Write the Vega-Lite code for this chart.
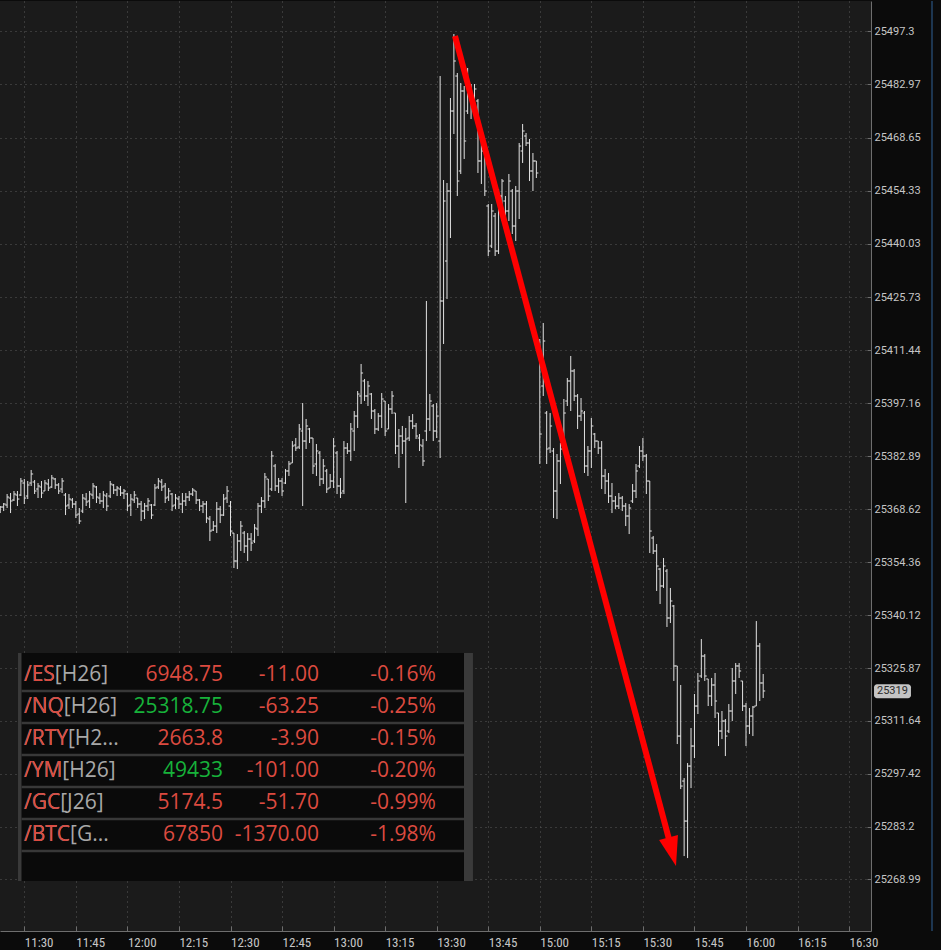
{
  "$schema": "https://vega.github.io/schema/vega-lite/v6.json",
  "width": 871,
  "height": 930,
  "padding": 0,
  "background": "#0b0b0b",
  "config": {
    "view": {"fill": "#1b1b1b", "stroke": null},
    "axis": {"title": null}
  },
  "datasets": {
    "bars": [
{"t":-7,"o":25368.67,"h":25369.48,"l":25367.59,"c":25369.21},
{"t":-6,"o":25369.21,"h":25370.29,"l":25368.13,"c":25370.02},
{"t":-5,"o":25369.75,"h":25372.71,"l":25368.94,"c":25371.90},
{"t":-4,"o":25371.63,"h":25372.98,"l":25367.59,"c":25370.83},
{"t":-3,"o":25371.10,"h":25373.52,"l":25370.83,"c":25372.71},
{"t":-2,"o":25372.44,"h":25373.52,"l":25369.48,"c":25371.36},
{"t":-1,"o":25372.44,"h":25377.02,"l":25372.17,"c":25376.21},
{"t":0,"o":25375.67,"h":25376.75,"l":25370.02,"c":25371.63},
{"t":1,"o":25372.17,"h":25376.21,"l":25371.36,"c":25375.14},
{"t":2,"o":25375.67,"h":25379.18,"l":25374.87,"c":25378.10},
{"t":3,"o":25375.94,"h":25376.48,"l":25372.71,"c":25373.52},
{"t":4,"o":25374.06,"h":25375.67,"l":25371.63,"c":25374.87},
{"t":5,"o":25374.60,"h":25376.21,"l":25371.63,"c":25372.98},
{"t":6,"o":25373.52,"h":25376.48,"l":25373.52,"c":25375.67},
{"t":7,"o":25375.40,"h":25376.75,"l":25373.52,"c":25374.33},
{"t":8,"o":25374.60,"h":25377.83,"l":25374.33,"c":25377.02},
{"t":9,"o":25376.75,"h":25377.02,"l":25374.06,"c":25375.14},
{"t":10,"o":25375.14,"h":25375.67,"l":25372.71,"c":25373.52},
{"t":11,"o":25374.06,"h":25377.02,"l":25372.98,"c":25376.21},
{"t":12,"o":25372.44,"h":25372.98,"l":25367.05,"c":25369.48},
{"t":13,"o":25369.75,"h":25372.71,"l":25368.67,"c":25371.36},
{"t":14,"o":25371.10,"h":25371.63,"l":25368.94,"c":25370.02},
{"t":15,"o":25370.02,"h":25370.83,"l":25366.25,"c":25367.05},
{"t":16,"o":25367.32,"h":25368.94,"l":25364.63,"c":25365.44},
{"t":17,"o":25368.13,"h":25372.71,"l":25367.59,"c":25371.63},
{"t":18,"o":25371.36,"h":25372.98,"l":25369.48,"c":25370.56},
{"t":19,"o":25370.83,"h":25373.52,"l":25368.94,"c":25372.71},
{"t":20,"o":25372.44,"h":25375.67,"l":25371.36,"c":25374.87},
{"t":21,"o":25374.60,"h":25374.87,"l":25370.29,"c":25371.90},
{"t":22,"o":25371.63,"h":25372.98,"l":25370.02,"c":25370.83},
{"t":23,"o":25370.83,"h":25373.52,"l":25368.94,"c":25372.44},
{"t":24,"o":25372.17,"h":25372.98,"l":25368.13,"c":25369.48},
{"t":25,"o":25372.17,"h":25376.21,"l":25371.63,"c":25375.40},
{"t":26,"o":25375.14,"h":25375.40,"l":25372.71,"c":25373.79},
{"t":27,"o":25373.79,"h":25374.87,"l":25372.17,"c":25374.33},
{"t":28,"o":25374.06,"h":25374.87,"l":25372.17,"c":25372.98},
{"t":29,"o":25372.98,"h":25374.06,"l":25371.36,"c":25373.52},
{"t":30,"o":25372.71,"h":25372.98,"l":25368.13,"c":25369.48},
{"t":31,"o":25369.75,"h":25372.71,"l":25366.79,"c":25371.36},
{"t":32,"o":25371.10,"h":25373.52,"l":25370.29,"c":25372.44},
{"t":33,"o":25371.63,"h":25371.63,"l":25368.94,"c":25370.02},
{"t":34,"o":25370.02,"h":25370.83,"l":25365.44,"c":25368.13},
{"t":35,"o":25368.13,"h":25370.29,"l":25365.98,"c":25369.48},
{"t":36,"o":25369.48,"h":25371.63,"l":25368.13,"c":25370.83},
{"t":37,"o":25369.75,"h":25370.02,"l":25365.98,"c":25367.05},
{"t":38,"o":25369.75,"h":25375.40,"l":25369.48,"c":25374.33},
{"t":39,"o":25374.60,"h":25377.02,"l":25374.06,"c":25376.21},
{"t":40,"o":25375.94,"h":25376.75,"l":25373.52,"c":25374.60},
{"t":41,"o":25374.87,"h":25375.67,"l":25370.29,"c":25371.63},
{"t":42,"o":25371.90,"h":25374.33,"l":25370.83,"c":25373.52},
{"t":43,"o":25372.71,"h":25372.98,"l":25368.13,"c":25369.48},
{"t":44,"o":25369.75,"h":25372.71,"l":25368.67,"c":25371.63},
{"t":45,"o":25371.36,"h":25372.17,"l":25368.67,"c":25370.02},
{"t":46,"o":25370.02,"h":25372.98,"l":25367.59,"c":25370.83},
{"t":47,"o":25370.83,"h":25372.98,"l":25369.48,"c":25371.90},
{"t":48,"o":25371.90,"h":25373.52,"l":25370.83,"c":25372.71},
{"t":49,"o":25372.71,"h":25374.33,"l":25372.17,"c":25373.79},
{"t":50,"o":25373.52,"h":25373.52,"l":25370.02,"c":25371.10},
{"t":51,"o":25371.10,"h":25371.36,"l":25368.13,"c":25369.48},
{"t":52,"o":25369.48,"h":25370.83,"l":25367.59,"c":25370.02},
{"t":53,"o":25370.02,"h":25370.83,"l":25364.90,"c":25366.25},
{"t":54,"o":25365.98,"h":25366.79,"l":25360.06,"c":25362.75},
{"t":55,"o":25363.02,"h":25365.44,"l":25362.75,"c":25364.09},
{"t":56,"o":25364.09,"h":25370.56,"l":25362.21,"c":25368.67},
{"t":57,"o":25368.67,"h":25369.48,"l":25364.90,"c":25367.05},
{"t":58,"o":25367.05,"h":25372.71,"l":25366.79,"c":25371.36},
{"t":59,"o":25371.63,"h":25374.87,"l":25370.29,"c":25373.52},
{"t":60,"o":25369.48,"h":25370.83,"l":25361.40,"c":25362.75},
{"t":61,"o":25362.21,"h":25362.21,"l":25352.79,"c":25354.68},
{"t":62,"o":25354.68,"h":25361.94,"l":25352.52,"c":25360.06},
{"t":63,"o":25360.06,"h":25365.44,"l":25357.37,"c":25364.09},
{"t":64,"o":25362.21,"h":25362.75,"l":25356.83,"c":25358.71},
{"t":65,"o":25358.71,"h":25362.21,"l":25354.68,"c":25360.60},
{"t":66,"o":25360.60,"h":25362.21,"l":25357.37,"c":25359.52},
{"t":67,"o":25360.06,"h":25364.63,"l":25359.52,"c":25363.56},
{"t":68,"o":25363.29,"h":25370.29,"l":25361.40,"c":25369.48},
{"t":69,"o":25369.48,"h":25371.90,"l":25367.59,"c":25370.83},
{"t":70,"o":25370.83,"h":25378.37,"l":25368.94,"c":25377.29},
{"t":71,"o":25376.75,"h":25376.75,"l":25370.83,"c":25372.17},
{"t":72,"o":25374.06,"h":25384.29,"l":25373.52,"c":25382.95},
{"t":73,"o":25380.25,"h":25380.79,"l":25373.52,"c":25374.87},
{"t":74,"o":25374.87,"h":25377.02,"l":25372.98,"c":25376.21},
{"t":75,"o":25376.21,"h":25377.02,"l":25372.17,"c":25373.52},
{"t":76,"o":25375.67,"h":25379.45,"l":25375.40,"c":25378.91},
{"t":77,"o":25378.91,"h":25381.60,"l":25377.56,"c":25380.79},
{"t":78,"o":25381.06,"h":25386.97,"l":25381.06,"c":25385.63},
{"t":79,"o":25385.90,"h":25387.78,"l":25384.29,"c":25385.09},
{"t":80,"o":25385.36,"h":25391.55,"l":25384.82,"c":25390.21},
{"t":81,"o":25389.67,"h":25397.20,"l":25369.48,"c":25386.97},
{"t":82,"o":25386.97,"h":25392.90,"l":25384.82,"c":25391.02},
{"t":83,"o":25390.21,"h":25390.48,"l":25386.44,"c":25387.78},
{"t":84,"o":25387.78,"h":25387.78,"l":25378.10,"c":25380.25},
{"t":85,"o":25380.79,"h":25386.17,"l":25377.56,"c":25384.29},
{"t":86,"o":25383.75,"h":25384.29,"l":25374.87,"c":25376.75},
{"t":87,"o":25376.75,"h":25382.13,"l":25375.40,"c":25380.25},
{"t":88,"o":25378.91,"h":25379.45,"l":25372.98,"c":25374.06},
{"t":89,"o":25374.33,"h":25378.10,"l":25374.33,"c":25376.21},
{"t":90,"o":25376.21,"h":25387.78,"l":25374.33,"c":25385.63},
{"t":91,"o":25383.75,"h":25384.29,"l":25372.71,"c":25374.87},
{"t":92,"o":25374.87,"h":25377.02,"l":25371.63,"c":25372.98},
{"t":93,"o":25373.52,"h":25386.97,"l":25372.71,"c":25385.09},
{"t":94,"o":25385.09,"h":25386.44,"l":25383.48,"c":25384.29},
{"t":95,"o":25384.29,"h":25391.82,"l":25381.60,"c":25390.21},
{"t":96,"o":25389.67,"h":25395.05,"l":25384.29,"c":25393.70},
{"t":97,"o":25393.70,"h":25400.43,"l":25390.48,"c":25399.62},
{"t":98,"o":25399.09,"h":25407.71,"l":25396.93,"c":25405.28},
{"t":99,"o":25403.13,"h":25403.67,"l":25397.74,"c":25399.09},
{"t":100,"o":25399.09,"h":25403.13,"l":25396.40,"c":25401.78},
{"t":101,"o":25399.62,"h":25399.89,"l":25392.90,"c":25395.05},
{"t":102,"o":25395.05,"h":25395.59,"l":25388.86,"c":25390.21},
{"t":103,"o":25390.21,"h":25394.51,"l":25389.67,"c":25393.70},
{"t":104,"o":25393.70,"h":25399.89,"l":25390.48,"c":25398.28},
{"t":105,"o":25397.74,"h":25397.74,"l":25388.32,"c":25389.67},
{"t":106,"o":25390.21,"h":25396.93,"l":25390.21,"c":25395.59},
{"t":107,"o":25395.59,"h":25400.43,"l":25394.24,"c":25399.09},
{"t":108,"o":25394.51,"h":25394.51,"l":25383.48,"c":25385.63},
{"t":109,"o":25385.63,"h":25390.21,"l":25379.72,"c":25388.32},
{"t":110,"o":25388.32,"h":25391.02,"l":25383.48,"c":25386.97},
{"t":111,"o":25386.97,"h":25390.48,"l":25370.29,"c":25387.51},
{"t":112,"o":25387.78,"h":25393.70,"l":25386.97,"c":25392.36},
{"t":113,"o":25392.36,"h":25394.24,"l":25390.21,"c":25391.02},
{"t":114,"o":25391.02,"h":25391.82,"l":25387.51,"c":25388.32},
{"t":115,"o":25387.78,"h":25388.86,"l":25384.29,"c":25385.90},
{"t":116,"o":25385.63,"h":25387.51,"l":25380.25,"c":25381.60},
{"t":117,"o":25389.67,"h":25424.66,"l":25386.97,"c":25392.90},
{"t":118,"o":25392.90,"h":25399.62,"l":25389.67,"c":25397.74},
{"t":119,"o":25396.40,"h":25396.93,"l":25386.97,"c":25389.67},
{"t":120,"o":25389.67,"h":25397.20,"l":25387.78,"c":25393.70},
{"t":121,"o":25386.97,"h":25485.21,"l":25382.40,"c":25424.66},
{"t":122,"o":25424.66,"h":25457.22,"l":25413.09,"c":25451.57},
{"t":123,"o":25435.42,"h":25456.42,"l":25425.20,"c":25454.26},
{"t":124,"o":25454.26,"h":25479.29,"l":25441.61,"c":25475.79},
{"t":125,"o":25475.79,"h":25496.52,"l":25469.60,"c":25489.25},
{"t":126,"o":25485.21,"h":25486.02,"l":25452.92,"c":25456.95},
{"t":127,"o":25459.65,"h":25483.33,"l":25458.84,"c":25481.18},
{"t":128,"o":25481.18,"h":25482.52,"l":25462.88,"c":25467.72},
{"t":129,"o":25475.79,"h":25487.37,"l":25474.99,"c":25483.33},
{"t":130,"o":25482.52,"h":25483.06,"l":25473.64,"c":25478.49},
{"t":131,"o":25478.49,"h":25483.06,"l":25473.91,"c":25481.72},
{"t":132,"o":25478.49,"h":25479.02,"l":25459.11,"c":25462.34},
{"t":133,"o":25462.34,"h":25468.26,"l":25456.15,"c":25465.03},
{"t":134,"o":25465.03,"h":25467.72,"l":25452.92,"c":25454.26},
{"t":135,"o":25450.23,"h":25450.76,"l":25436.77,"c":25438.11},
{"t":136,"o":25439.46,"h":25450.76,"l":25438.92,"c":25448.88},
{"t":137,"o":25447.53,"h":25448.34,"l":25436.77,"c":25438.11},
{"t":138,"o":25438.11,"h":25454.80,"l":25437.31,"c":25452.92},
{"t":139,"o":25452.92,"h":25457.49,"l":25446.19,"c":25456.95},
{"t":140,"o":25451.57,"h":25452.92,"l":25446.73,"c":25448.88},
{"t":141,"o":25448.88,"h":25458.84,"l":25446.19,"c":25456.95},
{"t":142,"o":25454.26,"h":25454.80,"l":25442.69,"c":25444.84},
{"t":143,"o":25444.84,"h":25455.61,"l":25440.81,"c":25454.26},
{"t":144,"o":25454.26,"h":25467.18,"l":25446.73,"c":25466.37},
{"t":145,"o":25465.03,"h":25472.30,"l":25461.80,"c":25470.41},
{"t":146,"o":25469.07,"h":25469.87,"l":25466.37,"c":25467.18},
{"t":147,"o":25467.18,"h":25468.26,"l":25456.95,"c":25459.65},
{"t":148,"o":25459.65,"h":25464.49,"l":25454.26,"c":25462.34},
{"t":149,"o":25462.34,"h":25462.34,"l":25457.76,"c":25459.11},
{"t":150,"o":25411.20,"h":25414.43,"l":25380.79,"c":25388.86},
{"t":151,"o":25401.78,"h":25418.74,"l":25399.09,"c":25413.89},
{"t":152,"o":25394.51,"h":25395.05,"l":25380.79,"c":25384.82},
{"t":153,"o":25385.09,"h":25394.51,"l":25383.75,"c":25391.02},
{"t":154,"o":25384.29,"h":25385.09,"l":25366.25,"c":25373.52},
{"t":155,"o":25373.52,"h":25383.48,"l":25365.98,"c":25381.60},
{"t":156,"o":25381.60,"h":25386.44,"l":25375.40,"c":25384.82},
{"t":157,"o":25386.97,"h":25398.28,"l":25386.17,"c":25394.51},
{"t":158,"o":25397.74,"h":25403.94,"l":25396.40,"c":25403.13},
{"t":159,"o":25403.13,"h":25409.86,"l":25395.05,"c":25405.82},
{"t":160,"o":25405.82,"h":25406.36,"l":25397.74,"c":25399.09},
{"t":161,"o":25399.09,"h":25399.62,"l":25390.21,"c":25393.70},
{"t":162,"o":25393.70,"h":25398.55,"l":25392.36,"c":25395.05},
{"t":163,"o":25394.51,"h":25395.05,"l":25378.37,"c":25380.25},
{"t":164,"o":25380.25,"h":25385.63,"l":25377.56,"c":25384.29},
{"t":165,"o":25384.29,"h":25393.17,"l":25379.72,"c":25391.02},
{"t":166,"o":25388.86,"h":25389.13,"l":25385.09,"c":25386.97},
{"t":167,"o":25386.97,"h":25386.97,"l":25383.48,"c":25385.09},
{"t":168,"o":25385.09,"h":25386.97,"l":25374.06,"c":25377.56},
{"t":169,"o":25377.56,"h":25379.45,"l":25372.71,"c":25376.21},
{"t":170,"o":25376.21,"h":25378.37,"l":25370.29,"c":25372.17},
{"t":171,"o":25372.17,"h":25375.67,"l":25367.59,"c":25370.83},
{"t":172,"o":25370.83,"h":25372.17,"l":25368.67,"c":25369.48},
{"t":173,"o":25369.48,"h":25372.98,"l":25368.67,"c":25371.63},
{"t":174,"o":25371.63,"h":25372.17,"l":25368.13,"c":25369.48},
{"t":175,"o":25369.48,"h":25370.29,"l":25364.09,"c":25366.79},
{"t":176,"o":25366.79,"h":25370.02,"l":25361.94,"c":25368.94},
{"t":177,"o":25370.83,"h":25375.40,"l":25370.29,"c":25373.52},
{"t":178,"o":25373.52,"h":25380.79,"l":25371.63,"c":25378.91},
{"t":179,"o":25380.25,"h":25385.63,"l":25379.72,"c":25384.29},
{"t":180,"o":25384.29,"h":25387.78,"l":25381.60,"c":25382.94},
{"t":181,"o":25382.94,"h":25383.48,"l":25372.71,"c":25376.21},
{"t":182,"o":25376.21,"h":25376.21,"l":25356.83,"c":25362.75},
{"t":183,"o":25360.87,"h":25361.40,"l":25356.56,"c":25357.37},
{"t":184,"o":25357.37,"h":25359.25,"l":25346.61,"c":25353.33},
{"t":185,"o":25352.52,"h":25352.79,"l":25343.11,"c":25347.96},
{"t":186,"o":25347.96,"h":25355.49,"l":25347.42,"c":25353.33},
{"t":187,"o":25351.98,"h":25352.52,"l":25336.92,"c":25339.34},
{"t":188,"o":25339.34,"h":25347.42,"l":25337.99,"c":25343.92},
{"t":189,"o":25342.57,"h":25342.84,"l":25322.39,"c":25326.43},
{"t":190,"o":25326.43,"h":25326.43,"l":25305.42,"c":25307.57},
{"t":191,"o":25307.57,"h":25321.31,"l":25293.30,"c":25294.11},
{"t":192,"o":25295.46,"h":25296.26,"l":25275.27,"c":25284.69},
{"t":193,"o":25284.69,"h":25300.30,"l":25274.73,"c":25299.49},
{"t":194,"o":25299.49,"h":25309.73,"l":25293.57,"c":25304.88},
{"t":195,"o":25304.88,"h":25318.89,"l":25301.65,"c":25315.65},
{"t":196,"o":25315.65,"h":25324.54,"l":25313.50,"c":25322.39},
{"t":197,"o":25323.73,"h":25333.68,"l":25323.20,"c":25329.10},
{"t":198,"o":25329.10,"h":25329.64,"l":25322.39,"c":25323.73},
{"t":199,"o":25322.93,"h":25322.93,"l":25315.65,"c":25318.35},
{"t":200,"o":25318.35,"h":25323.20,"l":25315.65,"c":25321.31},
{"t":201,"o":25321.31,"h":25324.54,"l":25312.42,"c":25317.00},
{"t":202,"o":25313.77,"h":25313.77,"l":25304.88,"c":25308.92},
{"t":203,"o":25308.92,"h":25314.31,"l":25306.76,"c":25311.61},
{"t":204,"o":25311.61,"h":25312.15,"l":25302.19,"c":25307.57},
{"t":205,"o":25308.92,"h":25316.19,"l":25308.38,"c":25314.31},
{"t":206,"o":25314.31,"h":25325.88,"l":25311.61,"c":25322.39},
{"t":207,"o":25322.39,"h":25327.22,"l":25318.89,"c":25326.43},
{"t":208,"o":25326.43,"h":25327.22,"l":25323.20,"c":25325.08},
{"t":209,"o":25322.39,"h":25322.39,"l":25314.31,"c":25315.65},
{"t":210,"o":25315.65,"h":25316.46,"l":25304.88,"c":25310.27},
{"t":211,"o":25310.27,"h":25315.12,"l":25308.11,"c":25312.96},
{"t":212,"o":25312.96,"h":25315.65,"l":25307.57,"c":25315.38},
{"t":213,"o":25315.65,"h":25338.52,"l":25315.65,"c":25331.80},
{"t":214,"o":25331.80,"h":25332.60,"l":25317.00,"c":25321.85},
{"t":215,"o":25321.85,"h":25324.27,"l":25317.81,"c":25319.70}
    ],
    "quotes": [
      {"row":0,"sym":"/ES[H26]","root":"/ES","last":"6948.75","chg":"-11.00","pct":"-0.16%","dir":"down"},
      {"row":1,"sym":"/NQ[H26]","root":"/NQ","last":"25318.75","chg":"-63.25","pct":"-0.25%","dir":"up"},
      {"row":2,"sym":"/RTY[H2...","root":"/RTY","last":"2663.8","chg":"-3.90","pct":"-0.15%","dir":"down"},
      {"row":3,"sym":"/YM[H26]","root":"/YM","last":"49433","chg":"-101.00","pct":"-0.20%","dir":"up"},
      {"row":4,"sym":"/GC[J26]","root":"/GC","last":"5174.5","chg":"-51.70","pct":"-0.99%","dir":"down"},
      {"row":5,"sym":"/BTC[G...","root":"/BTC","last":"67850","chg":"-1370.00","pct":"-1.98%","dir":"down"}
    ]
  },
  "layer": [
    {
      "layer": [
        {
          "data": {"name": "bars"},
          "mark": {"type": "rule", "color": "#e2e2e2", "strokeWidth": 1, "clip": true},
          "encoding": {
            "x": {
              "field": "t", "type": "quantitative",
              "scale": {"domain": [-7.07, 246.37], "nice": false, "zero": false},
              "axis": {
                "values": [0,15,30,45,60,75,90,105,120,135,150,165,180,195,210,225,240],
                "labelExpr": "['11:30','11:45','12:00','12:15','12:30','12:45','13:00','13:15','13:30','13:45','15:00','15:15','15:30','15:45','16:00','16:15','16:30'][round(datum.value/15)]",
                "grid": true, "gridColor": "#5a5a5a", "gridDash": [1, 4], "gridWidth": 1,
                "domainColor": "#6e6e6e", "tickColor": "#6e6e6e", "tickSize": -5,
                "labelAlign": "left", "labelBaseline": "middle", "labelPadding": 16,
                "labelFont": "Liberation Sans Narrow, Roboto Condensed, Roboto, sans-serif",
                "labelFontSize": 13, "labelColor": "#c6c6c6",
                "labelFlush": false, "labelOverlap": false, "title": null,
                "minExtent": 20, "maxExtent": 20
              }
            },
            "y": {
              "field": "h", "type": "quantitative",
              "scale": {"domain": [25255.1, 25505.4], "nice": false, "zero": false},
              "axis": {
                "orient": "right",
                "values": [25497.3,25482.97,25468.65,25454.33,25440.03,25425.73,25411.44,25397.16,25382.89,25368.62,25354.36,25340.12,25325.87,25311.64,25297.42,25283.2,25268.99],
                "format": ".2~f",
                "grid": true, "gridColor": "#5a5a5a", "gridDash": [1, 4], "gridWidth": 1,
                "domainColor": "#6e6e6e", "tickColor": "#6e6e6e", "tickSize": -4,
                "labelAlign": "left", "labelBaseline": "middle", "labelPadding": 7,
                "labelFont": "Roboto", "labelFontSize": 11, "labelColor": "#c6c6c6",
                "labelFlush": false, "labelOverlap": false, "title": null,
                "minExtent": 70, "maxExtent": 70
              }
            },
            "y2": {"field": "l"}
          }
        },
        {
          "data": {"name": "bars"},
          "mark": {"type": "tick", "orient": "horizontal", "size": 2, "thickness": 1, "xOffset": -1, "color": "#e2e2e2", "opacity": 1, "clip": true},
          "encoding": {
            "x": {"field": "t", "type": "quantitative", "scale": {"domain": [-7.07, 246.37], "nice": false, "zero": false}},
            "y": {"field": "o", "type": "quantitative", "scale": {"domain": [25255.1, 25505.4], "nice": false, "zero": false}}
          }
        },
        {
          "data": {"name": "bars"},
          "mark": {"type": "tick", "orient": "horizontal", "size": 2, "thickness": 1, "xOffset": 1, "color": "#e2e2e2", "opacity": 1, "clip": true},
          "encoding": {
            "x": {"field": "t", "type": "quantitative", "scale": {"domain": [-7.07, 246.37], "nice": false, "zero": false}},
            "y": {"field": "c", "type": "quantitative", "scale": {"domain": [25255.1, 25505.4], "nice": false, "zero": false}}
          }
        },
        {
          "data": {"values": [{"ax": 125.32, "ay": 25495.98}, {"ax": 187.89, "ay": 25278.78}]},
          "mark": {"type": "line", "color": "#ff0000", "strokeWidth": 6, "strokeCap": "butt"},
          "encoding": {
            "x": {"field": "ax", "type": "quantitative", "scale": {"domain": [-7.07, 246.37], "nice": false, "zero": false}},
            "y": {"field": "ay", "type": "quantitative", "scale": {"domain": [25255.1, 25505.4], "nice": false, "zero": false}}
          }
        },
        {
          "data": {"values": [{"ax": 188.54, "ay": 25276.43}]},
          "mark": {"type": "point", "shape": "M-0.66,-1L0.66,-1L0,1Z", "size": 870, "filled": true, "color": "#ff0000", "opacity": 1, "angle": 345.3},
          "encoding": {
            "x": {"field": "ax", "type": "quantitative", "scale": {"domain": [-7.07, 246.37], "nice": false, "zero": false}},
            "y": {"field": "ay", "type": "quantitative", "scale": {"domain": [25255.1, 25505.4], "nice": false, "zero": false}}
          }
        },
        {
          "data": {"values": [{"a": 25255.1, "b": 25505.4}]},
          "mark": {"type": "rule", "color": "#24466a", "strokeWidth": 1.5},
          "encoding": {
            "x": {"datum": 264.12, "type": "quantitative", "scale": {"domain": [-7.07, 246.37], "nice": false, "zero": false}},
            "y": {"field": "a", "type": "quantitative", "scale": {"domain": [25255.1, 25505.4], "nice": false, "zero": false}},
            "y2": {"field": "b"}
          }
        },
        {
          "data": {"values": [{"price": 25319.6, "label": "25319"}]},
          "mark": {"type": "rect", "color": "#c4c4c4", "cornerRadius": 3, "yOffset": -7, "y2Offset": 7},
          "encoding": {
            "x": {"datum": 247.25, "type": "quantitative", "scale": {"domain": [-7.07, 246.37], "nice": false, "zero": false}},
            "x2": {"datum": 258.0},
            "y": {"field": "price", "type": "quantitative", "scale": {"domain": [25255.1, 25505.4], "nice": false, "zero": false}},
            "y2": {"field": "price"}
          }
        },
        {
          "data": {"values": [{"price": 25319.6, "label": "25319"}]},
          "mark": {"type": "text", "color": "#2a2a2a", "font": "Roboto", "fontSize": 11, "align": "center", "baseline": "middle"},
          "encoding": {
            "x": {"datum": 252.6, "type": "quantitative", "scale": {"domain": [-7.07, 246.37], "nice": false, "zero": false}},
            "y": {"field": "price", "type": "quantitative", "scale": {"domain": [25255.1, 25505.4], "nice": false, "zero": false}},
            "text": {"field": "label"}
          }
        }
      ]
    },
    {
      "data": {"name": "quotes"},
      "layer": [
        {
          "data": {"values": [{}]},
          "mark": {"type": "rect", "color": "#3a3a3a"},
          "encoding": {
            "x": {"datum": -1.83, "type": "quantitative", "scale": {"domain": [-7.07, 246.37], "nice": false, "zero": false}},
            "x2": {"datum": 130.55},
            "y": {"datum": -0.69, "type": "quantitative", "scale": {"domain": [-21.06, 8.0], "reverse": true, "nice": false, "zero": false}, "axis": null},
            "y2": {"datum": 6.44}
          }
        },
        {
          "data": {"values": [{}]},
          "mark": {"type": "rect", "color": "#0a0a0a"},
          "encoding": {
            "x": {"datum": -0.81, "type": "quantitative", "scale": {"domain": [-7.07, 246.37], "nice": false, "zero": false}},
            "x2": {"datum": 127.94},
            "y": {"datum": -0.69, "type": "quantitative", "scale": {"domain": [-21.06, 8.0], "reverse": true, "nice": false, "zero": false}, "axis": null},
            "y2": {"datum": 6.44}
          }
        },
        {
          "mark": {"type": "rule", "color": "#383838", "strokeWidth": 2.5, "yOffset": 16},
          "encoding": {
            "x": {"datum": -0.81, "type": "quantitative", "scale": {"domain": [-7.07, 246.37], "nice": false, "zero": false}},
            "x2": {"datum": 127.94},
            "y": {"field": "row", "type": "quantitative", "scale": {"domain": [-21.06, 8.0], "reverse": true, "nice": false, "zero": false}, "axis": null}
          }
        },
        {
          "mark": {"type": "text", "align": "left", "baseline": "middle", "font": "Open Sans", "fontSize": 21, "color": "#a8a8a8"},
          "encoding": {
            "x": {"datum": -0.09, "type": "quantitative", "scale": {"domain": [-7.07, 246.37], "nice": false, "zero": false}},
            "y": {"field": "row", "type": "quantitative", "scale": {"domain": [-21.06, 8.0], "reverse": true, "nice": false, "zero": false}, "axis": null},
            "text": {"field": "sym"}
          }
        },
        {
          "mark": {"type": "text", "align": "left", "baseline": "middle", "font": "Open Sans", "fontSize": 21, "color": "#dc4a40"},
          "encoding": {
            "x": {"datum": -0.09, "type": "quantitative", "scale": {"domain": [-7.07, 246.37], "nice": false, "zero": false}},
            "y": {"field": "row", "type": "quantitative", "scale": {"domain": [-21.06, 8.0], "reverse": true, "nice": false, "zero": false}, "axis": null},
            "text": {"field": "root"}
          }
        },
        {
          "mark": {"type": "text", "align": "right", "baseline": "middle", "font": "Open Sans", "fontSize": 21},
          "encoding": {
            "x": {"datum": 57.82, "type": "quantitative", "scale": {"domain": [-7.07, 246.37], "nice": false, "zero": false}},
            "y": {"field": "row", "type": "quantitative", "scale": {"domain": [-21.06, 8.0], "reverse": true, "nice": false, "zero": false}, "axis": null},
            "text": {"field": "last"},
            "color": {"field": "dir", "type": "nominal", "scale": {"domain": ["down", "up"], "range": ["#dc4a40", "#17b23a"]}, "legend": null}
          }
        },
        {
          "mark": {"type": "text", "align": "right", "baseline": "middle", "font": "Open Sans", "fontSize": 21, "color": "#dc4a40"},
          "encoding": {
            "x": {"datum": 85.75, "type": "quantitative", "scale": {"domain": [-7.07, 246.37], "nice": false, "zero": false}},
            "y": {"field": "row", "type": "quantitative", "scale": {"domain": [-21.06, 8.0], "reverse": true, "nice": false, "zero": false}, "axis": null},
            "text": {"field": "chg"}
          }
        },
        {
          "mark": {"type": "text", "align": "right", "baseline": "middle", "font": "Open Sans", "fontSize": 21, "color": "#dc4a40"},
          "encoding": {
            "x": {"datum": 119.79, "type": "quantitative", "scale": {"domain": [-7.07, 246.37], "nice": false, "zero": false}},
            "y": {"field": "row", "type": "quantitative", "scale": {"domain": [-21.06, 8.0], "reverse": true, "nice": false, "zero": false}, "axis": null},
            "text": {"field": "pct"}
          }
        }
      ]
    }
  ],
  "resolve": {"scale": {"y": "independent"}}
}
